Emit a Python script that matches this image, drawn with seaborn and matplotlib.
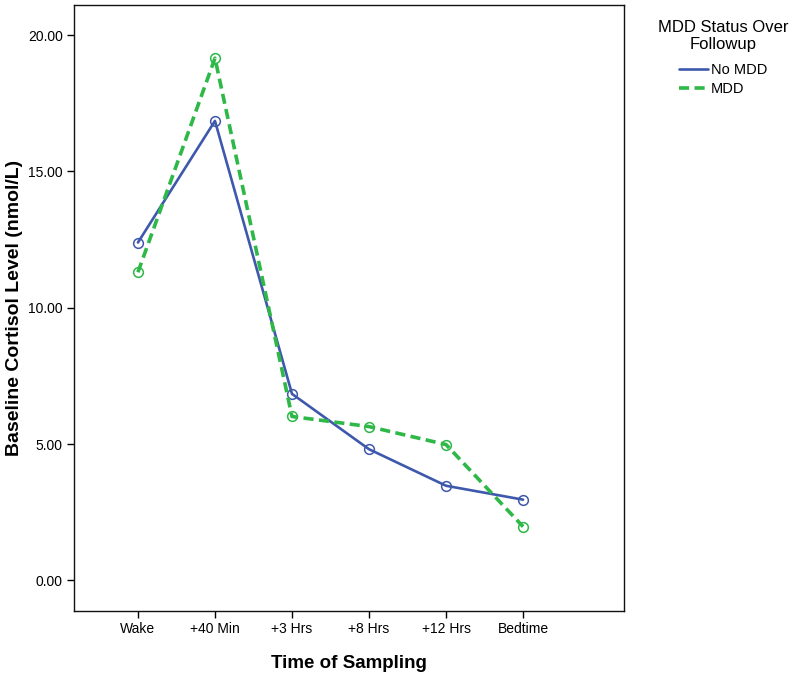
import pandas as pd
import numpy as np
import matplotlib.pyplot as plt
import seaborn as sns
from matplotlib.lines import Line2D

# ==================================================
# DATA
# ==================================================

times = ["Wake", "+40 Min", "+3 Hrs", "+8 Hrs", "+12 Hrs", "Bedtime"]
no_mdd = [12.39, 16.85, 6.84, 4.81, 3.47, 2.96]
mdd = [11.30, 19.15, 6.01, 5.64, 4.98, 1.97]
groups = ["No MDD", "MDD"]
y_ticks = [0, 5, 10, 15, 20]

df = pd.DataFrame({
    "time": list(range(len(times))) * 2,
    "cortisol": no_mdd + mdd,
    "status": [groups[0]] * len(times) + [groups[1]] * len(times)
})

# ==================================================
# STYLE
# ==================================================

sns.set_theme(style="white")
plt.rcParams["font.family"] = ["Liberation Sans", "DejaVu Sans"]
plt.rcParams["text.color"] = "black"
plt.rcParams["axes.labelcolor"] = "black"

colors = {"No MDD": "#3E58AC", "MDD": "#2EB848"}
styles = {
    "No MDD": dict(linewidth=1.9, linestyle="-"),
    "MDD": dict(linewidth=2.6, linestyle=(0, (2.8, 1.5))),
}

# ==================================================
# PLOT
# ==================================================

fig = plt.figure(figsize=(8, 6.8), dpi=100)
ax = fig.add_axes([0.0925, 0.102, 0.6875, 0.8906])

for g in groups:
    sub = df[df["status"] == g]
    sns.lineplot(
        data=sub,
        x="time",
        y="cortisol",
        color=colors[g],
        marker="o",
        markersize=7,
        markerfacecolor="none",
        markeredgecolor=colors[g],
        markeredgewidth=1.1,
        legend=False,
        ax=ax,
        **styles[g]
    )

ax.set_xlim(-0.83, 6.31)
ax.set_ylim(-1.11, 21.1)

ax.set_xticks(range(len(times)))
ax.set_xticklabels(times)
ax.set_yticks(y_ticks)
ax.set_yticklabels([f"{v:.2f}" for v in y_ticks])

ax.tick_params(axis="both", direction="out", length=5, width=1,
               color="black", labelsize=10, labelcolor="black", pad=3,
               left=True, bottom=True)

for s in ax.spines.values():
    s.set_color("#111111")
    s.set_linewidth(1.0)

ax.set_xlabel("Time of Sampling", fontsize=13.5, fontweight="bold",
              labelpad=14)
ax.set_ylabel("Baseline Cortisol Level (nmol/L)", fontsize=14,
              fontweight="bold")
ax.yaxis.set_label_coords(-0.093, 0.5)

handles = [
    Line2D([], [], color=colors[g], **styles[g]) for g in groups
]
leg = fig.legend(
    handles, groups,
    title="MDD Status Over\nFollowup",
    loc="upper left",
    bbox_to_anchor=(0.806, 0.99),
    frameon=False,
    fontsize=10.5,
    title_fontsize=12,
    handlelength=2.0,
    handletextpad=0.15,
    labelspacing=0.3
)
leg.get_title().set_multialignment("center")
leg._legend_box.sep = 8
leg._legend_box.align = "center"

fig.savefig("out.png", dpi=100)
